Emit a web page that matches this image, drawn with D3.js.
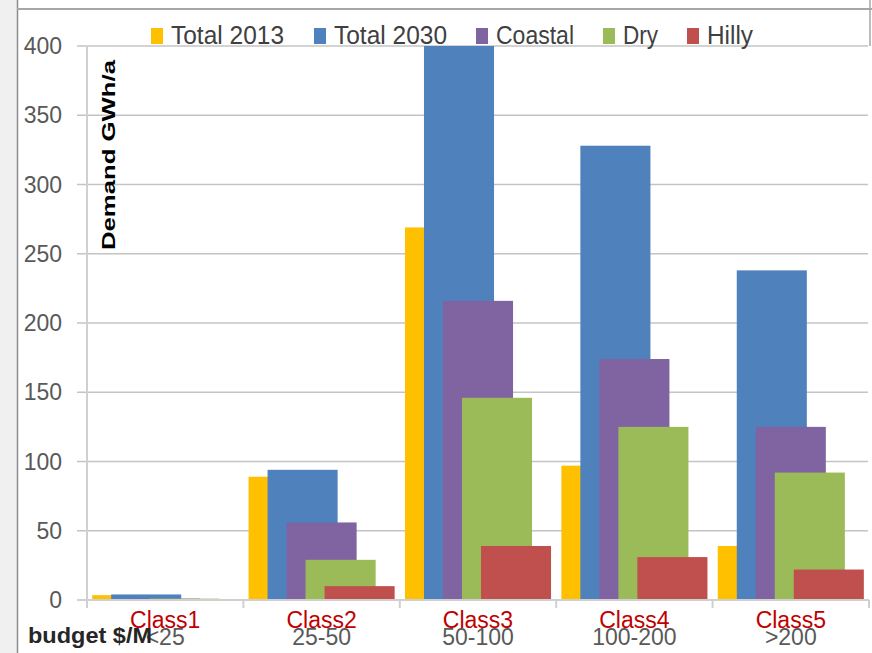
<!DOCTYPE html>
<html><head><meta charset="utf-8">
<script src="https://cdn.jsdelivr.net/npm/d3@7/dist/d3.min.js"></script>
<style>body{margin:0;background:#fff;overflow:hidden}svg{display:block}</style>
</head><body>
<svg id="c" width="872" height="653"></svg>
<script>
const categories = ["Class1","Class2","Class3","Class4","Class5"];
const budgetLabels = ["<25","25-50","50-100","100-200",">200"];
const seriesNames = ["Total 2013","Total 2030","Coastal","Dry","Hilly"];
const total2013 = [3.5, 89, 269, 97, 39];
const total2030 = [4, 94, 400, 328, 238];
const coastal   = [1, 56, 216, 174, 125];
const dry       = [1, 29, 146, 125, 92];
const hilly     = [0.5, 10, 39, 31, 22];
const yTicks = [0,50,100,150,200,250,300,350,400];
const colors = ["#FFC000","#4F81BD","#8064A2","#9BBB59","#C0504D"];
const seriesValues = [total2013, total2030, coastal, dry, hilly];

const svg = d3.select("#c");
// frame
svg.append("rect").attr("x",0).attr("y",0).attr("width",17).attr("height",653).attr("fill","#f0f0f0");
svg.append("line").attr("x1",17.5).attr("x2",17.5).attr("y1",0).attr("y2",653).attr("stroke","#8c8c8c").attr("stroke-width",1.5);
svg.append("line").attr("x1",17).attr("x2",872).attr("y1",9).attr("y2",9).attr("stroke","#a6a6a6").attr("stroke-width",2);
svg.append("line").attr("x1",870).attr("x2",870).attr("y1",0).attr("y2",46).attr("stroke","#a6a6a6").attr("stroke-width",1.5);

const y = d3.scaleLinear().domain([0,400]).range([600,46]);
const x0 = d3.scaleBand().domain(categories).range([87,869]).padding(0);
const bw = x0.bandwidth();
const barW = bw*0.448, step = bw*0.1215;
const xs = d3.scalePoint().domain(seriesNames).range([0, step*4]);
const offset = (bw - (step*4 + barW))/2;

// gridlines
svg.append("g").selectAll("line").data(yTicks.filter(d=>d>0)).join("line")
  .attr("x1",77).attr("x2",868).attr("y1",d=>y(d)).attr("y2",d=>y(d))
  .attr("stroke","#c4c4c4").attr("stroke-width",1.6);

// y tick labels
svg.append("g").selectAll("text").data(yTicks).join("text")
  .attr("x",62).attr("y",d=>y(d)+8).attr("text-anchor","end")
  .attr("font-family","Liberation Sans, Arial, sans-serif").attr("font-size",23)
  .attr("fill","#595959").text(d=>d);

// bars
const clipId = "plotclip";
svg.append("clipPath").attr("id",clipId).append("rect").attr("x",87).attr("y",46).attr("width",782).attr("height",554);
const barsG = svg.append("g").attr("clip-path",`url(#${clipId})`);
seriesNames.forEach((s,si)=>{
  barsG.append("g").selectAll("rect").data(categories.map((c,i)=>({c,v:seriesValues[si][i]}))).join("rect")
    .attr("x",d=>x0(d.c)+offset+xs(s))
    .attr("width",barW)
    .attr("y",d=>y(d.v))
    .attr("height",d=>y(0)-y(d.v))
    .attr("fill",colors[si]);
});

// axes lines
svg.append("line").attr("x1",87).attr("x2",87).attr("y1",46).attr("y2",608).attr("stroke","#d0d0d0").attr("stroke-width",2);
svg.append("line").attr("x1",77).attr("x2",869).attr("y1",600).attr("y2",600).attr("stroke","#d0d0d0").attr("stroke-width",2);
svg.append("g").selectAll("line").data(categories).join("line")
  .attr("x1",d=>x0(d)+bw).attr("x2",d=>x0(d)+bw).attr("y1",600).attr("y2",608)
  .attr("stroke","#d0d0d0").attr("stroke-width",2);

// category budget labels (grey)
svg.append("g").selectAll("text").data(budgetLabels).join("text")
  .attr("x",(d,i)=>x0(categories[i])+bw/2).attr("y",645).attr("text-anchor","middle")
  .attr("font-family","Liberation Sans, Arial, sans-serif").attr("font-size",23)
  .attr("fill","#595959").text(d=>d);

// budget label
svg.append("text").attr("x",28).attr("y",643)
  .attr("font-family","Liberation Sans, Arial, sans-serif").attr("font-size",22).attr("font-weight","bold")
  .attr("fill","#262626").attr("textLength",124).attr("lengthAdjust","spacingAndGlyphs").text("budget $/M");

// class labels (red)
svg.append("g").selectAll("text").data(categories).join("text")
  .attr("x",d=>x0(d)+bw/2).attr("y",628).attr("text-anchor","middle")
  .attr("font-family","Liberation Sans, Arial, sans-serif").attr("font-size",23)
  .attr("fill","#C00000").text(d=>d);

// y axis title
svg.append("text").attr("transform","translate(115,155) rotate(-90)").attr("text-anchor","middle")
  .attr("font-family","Liberation Sans, Arial, sans-serif").attr("font-size",18).attr("font-weight","bold")
  .attr("fill","#000").attr("textLength",190).attr("lengthAdjust","spacingAndGlyphs").text("Demand GWh/a");

// legend
const legendX = [151, 314, 476, 603, 687];
const legendW = [113, 113, 78, 35, 46];
const lg = svg.append("g");
seriesNames.forEach((s,i)=>{
  lg.append("rect").attr("x",legendX[i]).attr("y",28).attr("width",12).attr("height",16).attr("fill",colors[i]);
  lg.append("text").attr("x",legendX[i]+20).attr("y",44)
    .attr("font-family","Liberation Sans, Arial, sans-serif").attr("font-size",26)
    .attr("fill","#404040").attr("textLength",legendW[i]).attr("lengthAdjust","spacingAndGlyphs").text(s);
});
</script>
</body></html>
